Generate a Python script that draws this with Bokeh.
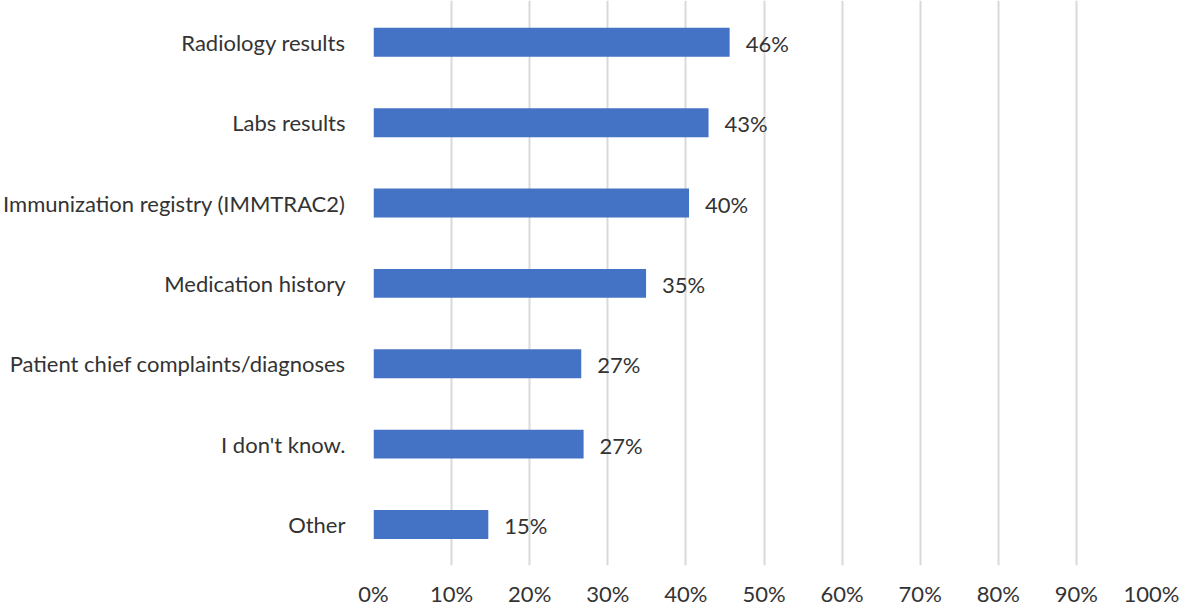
from bokeh.plotting import figure
from bokeh.models import ColumnDataSource, FixedTicker, PrintfTickFormatter, Range1d, LabelSet
from bokeh.core.properties import value
from bokeh.embed import file_html
from bokeh.resources import INLINE

categories = ["Other", "I don't know.", "Patient chief complaints/diagnoses",
              "Medication history", "Immunization registry (IMMTRAC2)",
              "Labs results", "Radiology results"]
values = [14.7, 26.9, 26.6, 34.9, 40.4, 42.9, 45.6]
labels = ["15%", "27%", "27%", "35%", "40%", "43%", "46%"]
x_ticks = [0, 10, 20, 30, 40, 50, 60, 70, 80, 90, 100]

FONT = "Lato"
FS = "22px"
TXT = "#333333"
pos = list(range(len(categories)))
src = ColumnDataSource(dict(y=pos, v=values, lab=labels))

p = figure(width=1179, height=609, output_backend="svg", toolbar_location=None,
           x_range=Range1d(0, 100), y_range=Range1d(-0.51, 6.52),
           min_border_left=370, min_border_right=25, min_border_top=0, min_border_bottom=43)

p.hbar(y="y", right="v", left=0, height=0.36, source=src, color="#4472C4", line_color=None)

p.add_layout(LabelSet(x="v", y="y", text="lab", source=src, x_offset=16, y_offset=-1,
                      text_baseline="middle", text_font=value(FONT), text_font_size=value(FS),
                      text_color=TXT))

p.outline_line_color = None
p.ygrid.grid_line_color = None
p.xgrid.grid_line_color = "#d9d9d9"
p.xgrid.grid_line_width = 2
p.xaxis.ticker = FixedTicker(ticks=x_ticks)
p.xaxis.formatter = PrintfTickFormatter(format="%d%%")
p.xaxis.axis_line_color = None
p.xaxis.major_tick_line_color = None
p.xaxis.minor_tick_line_color = None
p.xaxis.major_label_standoff = 8
p.xaxis.major_label_text_font = FONT
p.xaxis.major_label_text_font_size = FS
p.xaxis.major_label_text_color = TXT

p.yaxis.ticker = FixedTicker(ticks=pos)
p.yaxis.major_label_overrides = {i: c for i, c in enumerate(categories)}
p.yaxis.axis_line_color = None
p.yaxis.major_tick_line_color = None
p.yaxis.minor_tick_line_color = None
p.yaxis.major_label_standoff = 22
p.yaxis.major_label_text_font = FONT
p.yaxis.major_label_text_font_size = FS
p.yaxis.major_label_text_color = TXT

open("out.html", "w").write(file_html(p, INLINE))
